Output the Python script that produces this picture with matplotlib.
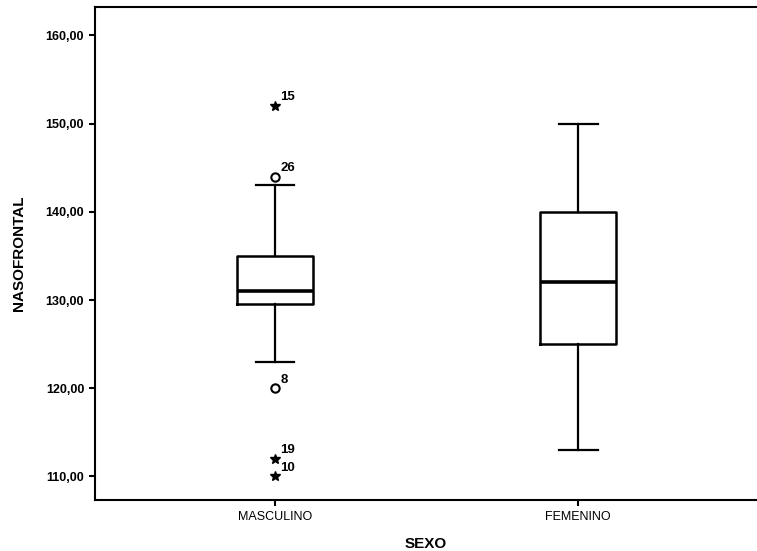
import matplotlib
matplotlib.use("Agg")
import matplotlib.pyplot as plt

plt.rcParams["font.family"] = ["Liberation Sans", "DejaVu Sans"]

# box summaries
groups = ["MASCULINO", "FEMENINO"]
whislo = [123.0, 113.0]
q1 = [129.5, 125.0]
med = [131.0, 132.0]
q3 = [135.0, 140.0]
whishi = [143.0, 150.0]

# outliers (group index, value, case number)
circ_group = [0, 0]
circ_vals = [144.0, 120.0]
circ_ids = ["26", "8"]
star_group = [0, 0, 0]
star_vals = [152.0, 112.0, 110.0]
star_ids = ["15", "19", "10"]

yticks = [110, 120, 130, 140, 150, 160]

fig = plt.figure(figsize=(7.57, 5.51), dpi=100)
ax = fig.add_axes([0.125, 0.092, 0.875, 0.895])

stats = []
for i, g in enumerate(groups):
    stats.append({
        "label": g, "whislo": whislo[i], "q1": q1[i], "med": med[i],
        "q3": q3[i], "whishi": whishi[i], "fliers": [],
    })

lw = 1.8
ax.bxp(stats, positions=[1, 2], widths=0.253, showfliers=False,
       boxprops=dict(color="black", linewidth=lw),
       medianprops=dict(color="black", linewidth=2.6),
       whiskerprops=dict(color="black", linewidth=1.6),
       capprops=dict(color="black", linewidth=1.6), capwidths=0.128)

pos = [1, 2]
cx = [pos[g] for g in circ_group]
ax.plot(cx, circ_vals, linestyle="none", marker="o", markersize=6,
        markerfacecolor="white", markeredgecolor="black", markeredgewidth=1.5)
sx = [pos[g] for g in star_group]
ax.plot(sx, star_vals, linestyle="none", marker="*", markersize=7.5,
        color="black")

for x, y, t in zip(cx, circ_vals, circ_ids):
    ax.annotate(t, (x, y), xytext=(4, 4), textcoords="offset points",
                fontsize=9.5, fontweight="bold")
for x, y, t in zip(sx, star_vals, star_ids):
    ax.annotate(t, (x, y), xytext=(4, 4), textcoords="offset points",
                fontsize=9.5, fontweight="bold")

ax.set_xlim(0.405, 2.59)
ax.set_ylim(107.3, 163.2)
ax.set_yticks(yticks)
ax.set_yticklabels([f"{v:.2f}".replace(".", ",") for v in yticks],
                   fontsize=9, fontweight="bold")
ax.set_xticks(pos)
ax.set_xticklabels(groups, fontsize=9)
ax.tick_params(axis="both", direction="out", length=4, width=1.5)
ax.spines["right"].set_visible(False)
for s in ["left", "bottom", "top"]:
    ax.spines[s].set_linewidth(1.5)

ax.set_xlabel("SEXO", fontsize=11, fontweight="bold", labelpad=10)
ax.set_ylabel("NASOFRONTAL", fontsize=11, fontweight="bold", labelpad=14)

fig.savefig("out.png", dpi=100)
